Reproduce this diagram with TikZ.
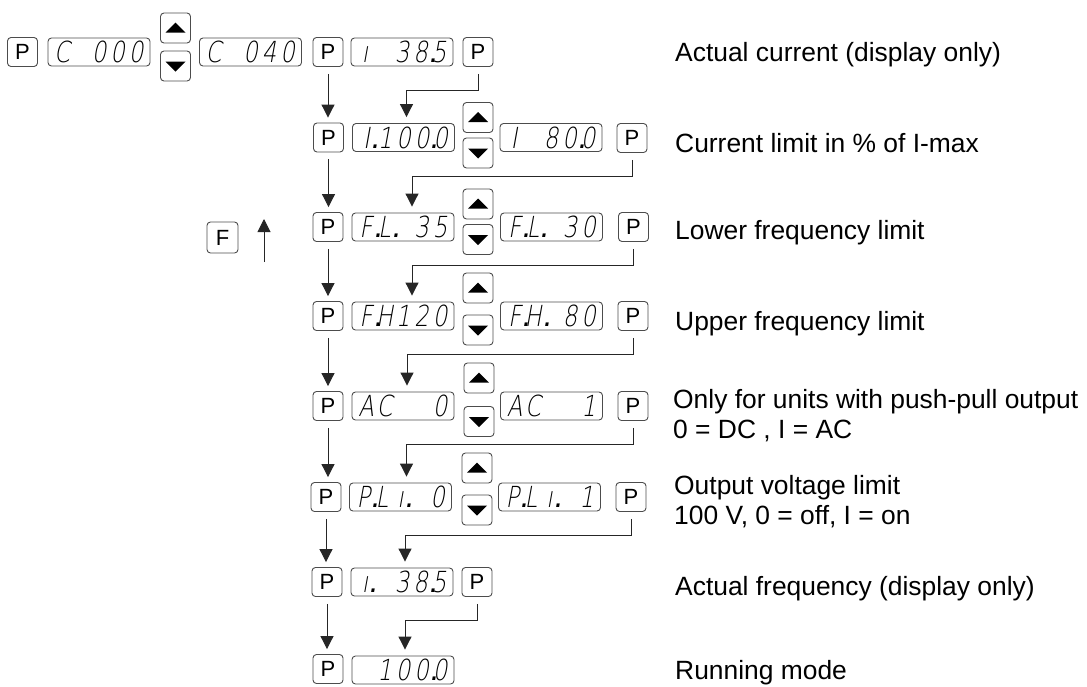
\documentclass[tikz,border=0pt]{standalone}
\usepackage{fontspec}
\setmainfont{Liberation Sans}
\newfontfamily\segfont{DejaVu Sans ExtraLight}[FakeSlant=0.18,FakeStretch=0.78]
\newfontfamily\segdotfont{DejaVu Sans}[FakeSlant=0.18]
\usetikzlibrary{arrows.meta}
\newcommand\dcell[1]{\makebox[18.5pt][c]{#1}}
\newcommand\wdot[1]{#1\rlap{\segdotfont\kern0.5pt.}}
\tikzset{
  box/.style={draw=black!70, line width=0.9pt, rounded corners=3.5pt, inner sep=0pt},
  pkey/.style={box, minimum width=30pt, minimum height=29pt, font=\fontsize{22}{22}\selectfont},
  disp/.style={box, minimum width=102pt, minimum height=28pt, text height=21pt, text depth=0pt,
    font=\segfont\fontsize{29}{29}\selectfont},
  upkey/.style={box, minimum width=30pt, minimum height=30pt,
    path picture={\fill[sharp corners] ([shift={(-10,4.5)}]path picture bounding box.center) -- ++(20,0) -- ++(-10,-10) -- cycle;}},
  dnkey/.style={box, minimum width=30pt, minimum height=30pt,
    path picture={\fill[sharp corners] ([shift={(-10,-4.5)}]path picture bounding box.center) -- ++(20,0) -- ++(-10,10) -- cycle;}},
  arr/.style={draw=black!85, line width=1pt, -{Triangle[width=13pt,length=13pt]}},
  desc/.style={anchor=base west, inner sep=0pt, font=\fontsize{26.4}{31}\selectfont}
}
\begin{document}
\begin{tikzpicture}[x=1pt,y=-1pt]
\useasboundingbox (0,0) rectangle (1087,686);
% row 1
\node[pkey] (P1a) at (22.5,52) {P};
\node[disp] (D1a) at (99,52) {\dcell{C}\dcell{}\dcell{0}\dcell{0}\dcell{0}};
\node[upkey] (U1) at (175.5,28) {};
\node[dnkey] (N1) at (175.5,66) {};
\node[disp] (D1b) at (250.5,52) {\dcell{C}\dcell{}\dcell{0}\dcell{4}\dcell{0}};
\node[pkey] (P1b) at (328,52) {P};
\node[disp] (D1c) at (402,52) {\dcell{ı}\dcell{}\dcell{3}\dcell{\wdot{8}}\dcell{5}};
\node[pkey] (P1c) at (478,52) {P};
% row 2
\node[pkey] (P2a) at (328.5,137.5) {P};
\node[disp] (D2a) at (403.5,137.5) {\dcell{\wdot{I}}\dcell{1}\dcell{0}\dcell{\wdot{0}}\dcell{0}};
\node[upkey] (U2) at (478,117.5) {};
\node[dnkey] (N2) at (478,153) {};
\node[disp] (D2b) at (551,137.5) {\dcell{I}\dcell{}\dcell{8}\dcell{\wdot{0}}\dcell{0}};
\node[pkey] (P2b) at (632,138) {P};
% row 3
\node[pkey] (P3a) at (328,227) {P};
\node[disp] (D3a) at (403,227) {\dcell{\wdot{F}}\dcell{\wdot{L}}\dcell{}\dcell{3}\dcell{5}};
\node[upkey] (U3) at (478,204) {};
\node[dnkey] (N3) at (478,239.5) {};
\node[disp] (D3b) at (551.5,227) {\dcell{\wdot{F}}\dcell{\wdot{L}}\dcell{}\dcell{3}\dcell{0}};
\node[pkey] (P3b) at (633.5,227) {P};
% row 4
\node[pkey] (P4a) at (328,316) {P};
\node[disp] (D4a) at (403,316) {\dcell{\wdot{F}}\dcell{H}\dcell{1}\dcell{2}\dcell{0}};
\node[upkey] (U4) at (478,288) {};
\node[dnkey] (N4) at (478,330) {};
\node[disp] (D4b) at (551.5,316) {\dcell{\wdot{F}}\dcell{\wdot{H}}\dcell{}\dcell{8}\dcell{0}};
\node[pkey] (P4b) at (633,316) {P};
% row 5
\node[pkey] (P5a) at (328,406) {P};
\node[disp] (D5a) at (403,406) {\dcell{A}\dcell{C}\dcell{}\dcell{}\dcell{0}};
\node[upkey] (U5) at (479,378) {};
\node[dnkey] (N5) at (479,421.5) {};
\node[disp] (D5b) at (551.5,406) {\dcell{A}\dcell{C}\dcell{}\dcell{}\dcell{1}};
\node[pkey] (P5b) at (633,406) {P};
% row 6
\node[pkey] (P6a) at (326,497) {P};
\node[disp] (D6a) at (400.5,497) {\dcell{\wdot{P}}\dcell{L}\dcell{\wdot{ı}}\dcell{}\dcell{0}};
\node[upkey] (U6) at (477,468) {};
\node[dnkey] (N6) at (477,510) {};
\node[disp] (D6b) at (549.5,497) {\dcell{\wdot{P}}\dcell{L}\dcell{\wdot{ı}}\dcell{}\dcell{1}};
\node[pkey] (P6b) at (631,497) {P};
% row 7
\node[pkey] (P7a) at (327,582) {P};
\node[disp] (D7a) at (402,582) {\dcell{\wdot{ı}}\dcell{}\dcell{3}\dcell{\wdot{8}}\dcell{5}};
\node[pkey] (P7b) at (477,582) {P};
% row 8
\node[pkey] (P8a) at (328,669) {P};
\node[disp] (D8a) at (403,670) {\dcell{}\dcell{1}\dcell{0}\dcell{\wdot{0}}\dcell{0}};
% F key
\node[pkey, minimum width=31pt, minimum height=31pt] (F) at (222.5,237.5) {F};
\coordinate (Fs) at (264,262);
\coordinate (Fe) at (264,219);
\draw[arr] (Fs) -- (Fe);
% left column arrows
\foreach \a/\b in {P1b/P2a,P2a/P3a,P3a/P4a,P4a/P5a,P5a/P6a,P6a/P7a,P7a/P8a}
  \draw[arr, shorten <=7pt, shorten >=5pt] (\a.south) -- (\a.south |- \b.north);
% right connectors
\foreach \a/\b/\s in {P1c/D2a/3,P2b/D3a/9,P3b/D4a/9,P4b/D5a/4,P5b/D6a/6,P6b/D7a/3,P7b/D8a/2}
  \draw[arr, shorten <=7pt, shorten >=6pt] (\a.south) -- ++(0,24) -| ([xshift=\s pt]\b.north);
% descriptions
\node[desc] (T1) at (675,61) {Actual current (display only)};
\node[desc] (T2) at (675,152) {Current limit in \% of I-max};
\node[desc] (T3) at (675,239) {Lower frequency limit};
\node[desc] (T4) at (675,330) {Upper frequency limit};
\node[desc] (T5a) at (673,408) {Only for units with push-pull output};
\node[desc] (T5b) at (673,438) {0 = DC , I = AC};
\node[desc] (T6a) at (674,494) {Output voltage limit};
\node[desc] (T6b) at (674,524) {100 V, 0 = off, I = on};
\node[desc] (T7) at (675,595) {Actual frequency (display only)};
\node[desc] (T8) at (675,679) {Running mode};
\end{tikzpicture}
\end{document}
